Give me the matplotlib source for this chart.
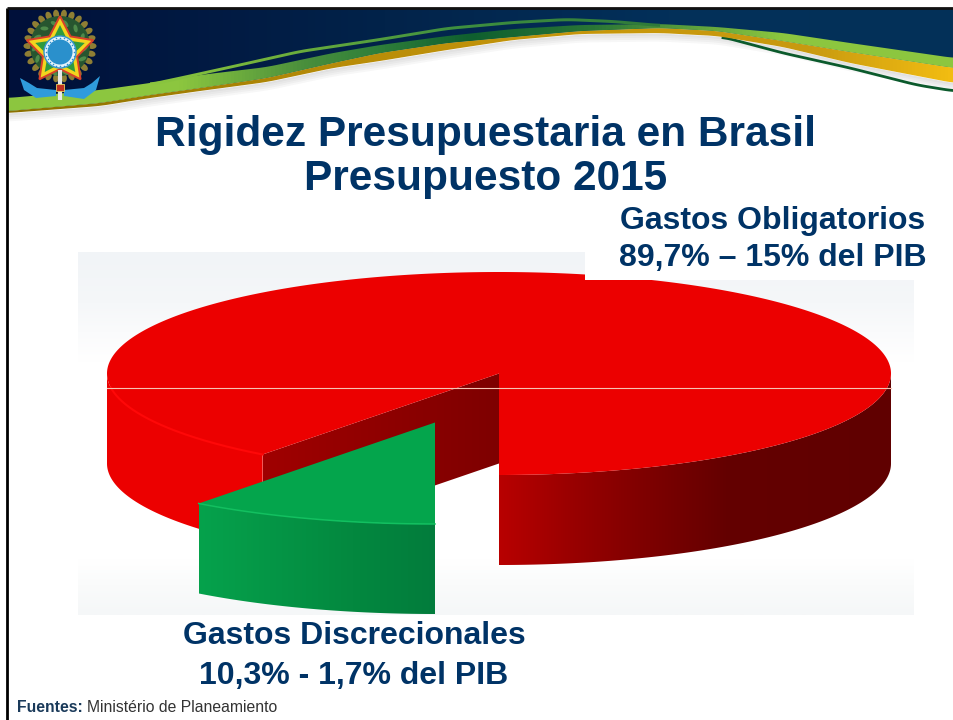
#!/usr/bin/env python
"""Rigidez presupuestaria slide: exploded 3D pie drawn in pixel coordinates."""
import numpy as np
import matplotlib
matplotlib.use("Agg")
import matplotlib.pyplot as plt  # noqa: E402
from matplotlib.colors import LinearSegmentedColormap
from matplotlib.patches import Polygon, Ellipse

W, H = 954, 720
NAVY = "#003366"

title_lines = ["Rigidez Presupuestaria en Brasil", "Presupuesto 2015"]
mandatory_label = ["Gastos Obligatorios", "89,7% – 15% del PIB"]
discretionary_label = ["Gastos Discrecionales", "10,3% - 1,7% del PIB"]
shares = [89.7, 10.3]

# banner curves
band_x = [8, 100, 150, 200, 267, 333, 380, 447, 513, 580, 660, 717, 783, 850, 954]
band_top = [98, 90, 83, 75, 67, 53, 45, 36, 29, 25, 24, 27, 33, 43, 58]
band_mid = [111, 103, 95, 88, 78, 63, 53, 43, 37, 31, 28, 31, 41, 52, 68]
band_low = [113, 106, 98, 91, 82, 68, 61, 50, 40, 34, 33, 36, 47, 63, 83]
thin_x = [150, 183, 233, 300, 380, 447, 513, 567, 613, 660]
thin_top = [83, 76, 65, 50, 38, 27, 21, 18, 20, 24]
ribbon_x = [723, 783, 850, 917, 954]
ribbon_y = [37, 53, 68, 85, 91]


def smooth(xs, ys, step=2):
    x = np.arange(xs[0], xs[-1] + step, step)
    y = np.interp(x, xs, ys)
    k = 11
    pad = np.r_[np.full(k, y[0]), y, np.full(k, y[-1])]
    y2 = np.convolve(pad, np.ones(k) / k, mode="same")[k:-k]
    return x, y2


def grad_fill(ax, verts, stops, span, zorder, vertical=False):
    """Fill a polygon with a linear gradient through the given colours."""
    cmap = LinearSegmentedColormap.from_list("g", stops)
    ramp = np.linspace(0, 1, 256)
    arr = ramp[:, None] if vertical else ramp[None, :]
    xs = [v[0] for v in verts]; ys = [v[1] for v in verts]
    if vertical:
        ext = (min(xs), max(xs), span[1], span[0])
    else:
        ext = (span[0], span[1], max(ys), min(ys))
    im = ax.imshow(arr, cmap=cmap, extent=ext, aspect="auto", origin="upper",
                   zorder=zorder, interpolation="bilinear")
    clip = Polygon(verts, closed=True, transform=ax.transData, fc="none", ec="none")
    ax.add_patch(clip)
    im.set_clip_path(clip)


def rim(cx, cy, rx, ry, t0, t1, n=160):
    t = np.radians(np.linspace(t0, t1, n))
    return np.c_[cx + rx * np.cos(t), cy + ry * np.sin(t)]


def banner(ax):
    x, t = smooth(band_x, band_top)
    _, m = smooth(band_x, band_mid)
    _, lo = smooth(band_x, band_low)
    # navy only above the wave
    top = [(8, 9), (954, 9)] + list(zip(x[::-1], m[::-1]))
    grad_fill(ax, top, [(0, "#00103A"), (0.4, "#02234A"), (0.7, "#03305A"), (1, "#033058")],
              (8, 954), 2)
    # soft shadow under the swoosh
    for d in (2, 4, 6, 8):
        ax.fill_between(x, lo, lo + d, color="#666666", alpha=0.05, lw=0, zorder=2.5)
    rx, ry = smooth(ribbon_x, ribbon_y)
    ax.plot(rx, ry, color="#0B5A2C", lw=2, zorder=3.3)
    gold = list(zip(x, m)) + list(zip(x[::-1], lo[::-1]))
    grad_fill(ax, gold, [(0, "#8A7000"), (0.35, "#B88C08"), (0.65, "#C8980C"),
                         (0.85, "#C89A10"), (1, "#F2BC12")], (8, 954), 3.5)
    green = list(zip(x, t)) + list(zip(x[::-1], m[::-1]))
    stops = [(0, "#8CC63F"), (0.18, "#8CC63F"), (0.31, "#4A8F3C"), (0.39, "#2F7F3A"), (0.49, "#0F5F2F"),
             (0.62, "#2A7636"), (0.72, "#5A9E3C"), (0.82, "#8CC63F"), (1, "#8CC63F")]
    grad_fill(ax, green, stops, (8, 954), 3.6)
    # thin upper strand with a navy slit below it
    tx, ty = smooth(thin_x, thin_top)
    strand = ty + 3.0
    sv = list(zip(tx, ty)) + list(zip(tx[::-1], strand[::-1]))
    grad_fill(ax, sv, [(0, "#8CC63F"), (0.25, "#6FB03C"), (0.6, "#3F9040"), (1, "#2F7A3A")],
              (150, 660), 3.7)
    # slide frame
    ax.plot([7, 7], [720, 8], color="black", lw=2, zorder=6, solid_capstyle="butt")
    ax.plot([7, 954], [8, 8], color="#111111", lw=2, zorder=6, solid_capstyle="butt")


def star(cx, cy, r_out, r_in, rot=-90):
    a = np.radians(rot + np.arange(10) * 36)
    r = np.where(np.arange(10) % 2 == 0, r_out, r_in)
    return np.c_[cx + r * np.cos(a), cy + r * np.sin(a)]


def crest(ax):
    z = 7
    for i in range(26):
        a = 2 * np.pi * i / 26
        px, py = 60 + 32 * np.cos(a), 46 + 32 * np.sin(a)
        ax.add_patch(Ellipse((px, py), 6, 9, angle=np.degrees(a) + 90, fc="#8E7E34", ec="none", zorder=z))
    ax.add_patch(Ellipse((60, 46), 60, 60, fc="#27552F", ec="none", zorder=z + 0.1))
    for i in range(14):
        a = 2 * np.pi * i / 14
        px, py = 60 + 25 * np.cos(a), 48 + 25 * np.sin(a)
        ax.add_patch(Ellipse((px, py), 4, 8, angle=np.degrees(a) + 40, fc="#4E8A4A", ec="none", zorder=z + 0.15))
    ax.add_patch(Polygon(star(60, 51, 35, 18), closed=True, fc="#F2D51E", ec="#D8402A", lw=1.4, zorder=z + 0.2))
    ax.add_patch(Polygon(star(60, 51, 26, 13), closed=True, fc="#2F9A3E", ec="none", zorder=z + 0.3))
    ax.add_patch(Ellipse((60, 52), 32, 32, fc="#E4F2FA", ec="#3595CC", lw=1, zorder=z + 0.4))
    ax.add_patch(Ellipse((60, 52), 25, 25, fc="#2A90CC", ec="none", zorder=z + 0.5))
    dots = rim(60, 52, 14.3, 14.3, 0, 345, 24)
    ax.scatter(dots[:, 0], dots[:, 1], s=1.2, color="#2A90CC", zorder=z + 0.6, lw=0)
    ax.plot([60, 60], [70, 100], color="#E8E8E8", lw=3, zorder=z + 0.7, solid_capstyle="butt")
    ax.add_patch(Polygon([(56, 84), (64, 84), (64, 91), (56, 91)], fc="#C03020", ec="#E8D060", lw=0.6, zorder=z + 0.9))
    ribbon = [(20, 78), (29, 83), (37, 88), (56, 90), (56, 96), (36, 98), (24, 90)]
    ax.add_patch(Polygon(ribbon, closed=True, fc="#2F9BDC", ec="none", zorder=z + 0.8))
    ribbon2 = [(100, 76), (92, 83), (84, 88), (64, 90), (64, 96), (84, 99), (96, 90)]
    ax.add_patch(Polygon(ribbon2, closed=True, fc="#2F9BDC", ec="none", zorder=z + 0.8))


def pie(ax):
    cx, cy, rx, ry, depth = 499, 373.5, 392, 101.5, 90
    # share of the wedge gives the opening angle on the ellipse
    sweep = shares[1] / sum(shares) * 360
    t_a, t_b = 90, 90 + sweep
    cut = rim(cx, cy, rx, ry, t_b, t_b, 1)[0]

    # panel behind the pie
    panel = [(78, 252), (914, 252), (914, 615), (78, 615)]
    grad_fill(ax, panel, [(0, "#F1F4F7"), (0.14, "#F5F7F9"), (0.3, "#FFFFFF"), (0.85, "#FFFFFF"),
                          (0.92, "#FAFBFB"), (1, "#F5F7F8")], (252, 615), 1, vertical=True)

    # outer wall, left of the gap
    left = rim(cx, cy, rx, ry, t_b, 180)
    wall_l = np.r_[left, left[::-1] + [0, depth]]
    ax.add_patch(Polygon(wall_l, closed=True, fc="#EC0000", ec="none", zorder=3))

    # inner wall seen through the gap
    inner = [(cx, cy), tuple(cut), (cut[0], cut[1] + depth), (cx, cy + depth)]
    grad_fill(ax, inner, [(0, "#A00000"), (1, "#7E0000")], (cut[0], cx), 3.1)

    # outer wall, right of the gap
    right = rim(cx, cy, rx, ry, 0, t_a)
    wall_r = np.r_[right, right[::-1] + [0, depth]]
    grad_fill(ax, wall_r, [(0, "#B80000"), (0.18, "#9A0000"), (0.36, "#800000"),
                           (0.58, "#640000"), (1, "#600000")], (cx, cx + rx), 3.2)

    # top face
    face = np.r_[[[cx, cy]], rim(cx, cy, rx, ry, t_b, 360 + t_a, 400)]
    ax.add_patch(Polygon(face, closed=True, fc="#EC0000", ec="none", zorder=3.3))
    hi = rim(cx, cy, rx, ry, t_b, 172)
    ax.plot(hi[:, 0], hi[:, 1], color="#FF0808", lw=1.5, zorder=3.4)
    ax.plot([cx - rx, cx + rx], [387.5, 387.5], color="#F6C4B4", lw=0.8, zorder=3.5)

    # exploded green wedge
    gx, gy = cx - 64, cy + 49
    arc = rim(gx, gy, rx, ry, t_a, t_b, 60)
    side = np.r_[arc, arc[::-1] + [0, depth]]
    grad_fill(ax, side, [(0, "#027C3C"), (0.35, "#03883F"), (1, "#06A24C")],
              (arc[:, 0].max(), arc[:, 0].min()), 4)
    wedge = np.r_[[[gx, gy]], arc]
    ax.add_patch(Polygon(wedge, closed=True, fc="#04A54C", ec="none", zorder=4.1))
    ax.plot(arc[:, 0], arc[:, 1], color="#12C060", lw=1.1, zorder=4.2)

    # white label box hides the top of the pie on the right
    ax.add_patch(Polygon([(585, 190), (954, 190), (954, 280), (585, 280)], fc="white", ec="none", zorder=4.5))


def texts(ax):
    kw = dict(family="Liberation Sans", weight="bold", color=NAVY, ha="center", va="baseline", zorder=8)
    ax.text(486, 146, title_lines[0], fontsize=30.5, **kw)
    ax.text(486, 190, title_lines[1], fontsize=30.5, **kw)
    ax.text(773, 229, mandatory_label[0], fontsize=23, **kw)
    ax.text(773, 266, mandatory_label[1], fontsize=23, **kw)
    ax.text(354, 644, discretionary_label[0], fontsize=23, **kw)
    ax.text(354, 684, discretionary_label[1], fontsize=23, **kw)
    ax.text(17, 712, "Fuentes:", family="Liberation Sans", weight="bold", fontsize=11.3,
            color="#1A3A5A", va="baseline", zorder=8)
    ax.text(87, 712, "Ministério de Planeamiento", family="Liberation Sans", fontsize=11.3,
            color="#333333", va="baseline", zorder=8)


def main():
    fig = plt.figure(figsize=(W / 100, H / 100), dpi=100, facecolor="white")
    ax = fig.add_axes([0, 0, 1, 1])
    ax.set_autoscale_on(False)
    ax.axis("off")
    pie(ax); banner(ax); crest(ax); texts(ax)
    ax.set_xlim(0, W); ax.set_ylim(H, 0)
    fig.savefig("out.png", dpi=100)


if __name__ == "__main__":
    main()
